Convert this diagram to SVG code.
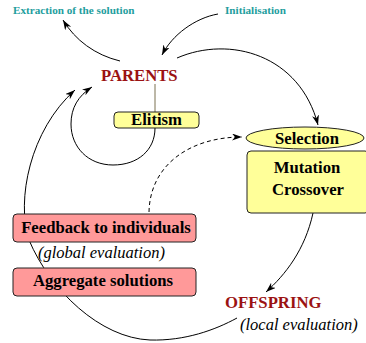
<svg xmlns="http://www.w3.org/2000/svg" width="366" height="343" viewBox="0 0 366 343">
  <defs>
    <marker id="arrow" markerUnits="userSpaceOnUse" markerWidth="12" markerHeight="8" refX="10" refY="3.5" orient="auto">
      <path d="M0,0 L10,3.5 L0,7 L3,3.5 z" fill="#000"/>
    </marker>
    <style>
      .edge { fill: none; stroke: #000; stroke-width: 1; }
      .dashed { stroke-dasharray: 4 3; }
      .lbl { font-family: "Liberation Serif", "Times New Roman", serif; font-weight: bold; font-size: 16.7px; fill: #000; }
      .state { font-family: "Liberation Serif", "Times New Roman", serif; font-weight: bold; font-size: 16.7px; fill: #9b1212; }
      .note { font-family: "Liberation Serif", "Times New Roman", serif; font-style: italic; font-size: 16.5px; fill: #000; }
      .ext { font-family: "Liberation Serif", "Times New Roman", serif; font-weight: bold; font-size: 11.2px; fill: #1f9e9e; }
      .yellow { fill: #ffff99; stroke: #222; stroke-width: 1; }
      .pink { fill: #ff9999; stroke: #222; stroke-width: 1; }
    </style>
  </defs>

  <g id="connectors">
    <!-- parents to extraction -->
    <path class="edge" d="M120,61 C95,55 75,40 63,20" marker-end="url(#arrow)"/>
    <!-- initialisation to parents -->
    <path class="edge" d="M218,14 C195,18 172,35 162,55" marker-end="url(#arrow)"/>
    <!-- parents to selection -->
    <path class="edge" d="M177,58 C230,35 300,55 318,125" marker-end="url(#arrow)"/>
    <!-- elitism link -->
    <path d="M155,84 L155,112" fill="none" stroke="#7a7050" stroke-width="1"/>
    <!-- elitism loop back to parents -->
    <path class="edge" d="M155,128 C155,150 138,165 113,165 C88,165 71,147 71,124 C71,108 78,96 92,87" marker-end="url(#arrow)"/>
    <!-- variation to offspring -->
    <path class="edge" d="M313,213 C305,250 285,275 266,292" marker-end="url(#arrow)"/>
    <!-- offspring back to parents -->
    <path class="edge" d="M237,318 C215,330 185,341 150,340 C100,338 50,290 29,240 C16,200 30,130 75,90" marker-end="url(#arrow)"/>
    <!-- feedback to selection -->
    <path class="edge dashed" d="M149,212 C150,165 190,137 242,137" marker-end="url(#arrow)"/>
  </g>

  <g id="extraction">
    <text class="ext" x="13" y="14">Extraction of the solution</text>
  </g>
  <g id="initialisation">
    <text class="ext" x="225" y="14">Initialisation</text>
  </g>
  <g id="parents">
    <text class="state" x="101" y="81">PARENTS</text>
  </g>
  <g id="elitism">
    <rect class="yellow" x="114" y="112" width="85" height="16" rx="4"/>
    <text class="lbl" x="156.5" y="125" text-anchor="middle">Elitism</text>
  </g>
  <g id="selection">
    <ellipse class="yellow" cx="305" cy="138" rx="59" ry="11"/>
    <text class="lbl" x="307" y="144" text-anchor="middle">Selection</text>
  </g>
  <g id="variation">
    <rect class="yellow" x="247" y="151" width="122" height="62" rx="4"/>
    <text class="lbl" x="307" y="173" text-anchor="middle">Mutation</text>
    <text class="lbl" x="308" y="195" text-anchor="middle">Crossover</text>
  </g>
  <g id="feedback">
    <rect class="pink" x="13" y="214" width="183" height="28" rx="4"/>
    <text class="lbl" x="106" y="233" text-anchor="middle">Feedback to individuals</text>
    <text class="note" x="38" y="258">(global evaluation)</text>
  </g>
  <g id="aggregate">
    <rect class="pink" x="13" y="268" width="183" height="28" rx="4"/>
    <text class="lbl" x="103" y="286" text-anchor="middle">Aggregate solutions</text>
  </g>
  <g id="offspring">
    <text class="state" x="225" y="308">OFFSPRING</text>
    <text class="note" x="240" y="330">(local evaluation)</text>
  </g>
</svg>
